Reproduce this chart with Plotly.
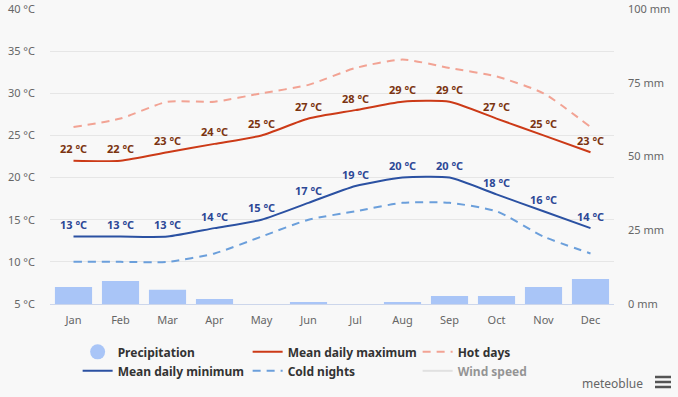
import plotly.graph_objects as go

months = ["Jan", "Feb", "Mar", "Apr", "May", "Jun", "Jul", "Aug", "Sep", "Oct", "Nov", "Dec"]
precip_mm = [5.8, 7.8, 4.8, 1.7, 0.0, 0.7, 0.0, 0.7, 2.7, 2.7, 5.8, 8.5]
mean_max = [22, 22, 23, 24, 25, 27, 28, 29, 29, 27, 25, 23]
mean_min = [13, 13, 13, 14, 15, 17, 19, 20, 20, 18, 16, 14]
hot_days = [26, 27, 29, 29, 30, 31, 33, 34, 33, 32, 30, 26]
cold_nights = [10, 10, 10, 11, 13, 15, 16, 17, 17, 16, 13, 11]

FONT = "Noto Sans"
MAX_LABEL = "#7b3410"
MIN_LABEL = "#2c4796"
fig = go.Figure()

# precipitation bars (right axis)
fig.add_trace(go.Bar(x=months, y=precip_mm, yaxis="y2", marker=dict(color="#a9c5f7", line=dict(width=0)),
                     name="Precipitation", showlegend=False, legendgroup="p"))
# legend proxy with circle symbol
fig.add_trace(go.Scatter(x=[None], y=[None], mode="markers", name="Precipitation", legendgroup="p",
                         marker=dict(color="#a9c5f7", size=15, symbol="circle")))

fig.add_trace(go.Scatter(x=months, y=mean_max, mode="lines", name="Mean daily maximum",
                         line=dict(color="#cc3a17", width=2, shape="spline", smoothing=0.6)))
fig.add_trace(go.Scatter(x=months, y=hot_days, mode="lines", name="Hot days",
                         line=dict(color="#f2a394", width=2, dash="8px,6px", shape="spline", smoothing=0.6)))
fig.add_trace(go.Scatter(x=months, y=mean_min, mode="lines", name="Mean daily minimum",
                         line=dict(color="#2b51a2", width=2, shape="spline", smoothing=0.6)))
fig.add_trace(go.Scatter(x=months, y=cold_nights, mode="lines", name="Cold nights",
                         line=dict(color="#6b9fdb", width=2, dash="8px,6px", shape="spline", smoothing=0.6)))
fig.add_trace(go.Scatter(x=[None], y=[None], mode="lines", name="Wind speed", visible="legendonly",
                         line=dict(color="#cccccc", width=2)))

# data labels placed via the axes' data coordinates
for series, col in ((mean_max, MAX_LABEL), (mean_min, MIN_LABEL)):
    for m, v in zip(months, series):
        fig.add_annotation(x=m, y=v, xref="x", yref="y", text=f"{v} °C", showarrow=False,
                           yshift=12, xanchor="center", yanchor="middle",
                           font=dict(family=FONT, size=11, color=col, weight="bold"))

fig.update_layout(
    width=678, height=397,
    margin=dict(l=50, r=64, t=9, b=93, autoexpand=False),
    paper_bgcolor="#f8f8f8", plot_bgcolor="#f8f8f8",
    font=dict(family=FONT, size=11, color="#666666"),
    bargap=0.21,
    showlegend=True,
    legend=dict(orientation="h", x=0.049, xanchor="left", y=-0.113, yanchor="top",
                entrywidth=125, entrywidthmode="pixels", itemwidth=30, tracegroupgap=0,
                font=dict(family=FONT, size=12, color="#333333", weight="bold"),
                bgcolor="rgba(0,0,0,0)"),
    xaxis=dict(type="category", categoryorder="array", categoryarray=months,
               showgrid=False, showline=True, linecolor="#ccd6eb", linewidth=1,
               ticks="", tickfont=dict(size=11, color="#666666"), ticklabelstandoff=6,
               automargin=False),
    yaxis=dict(range=[5, 40], dtick=5, tick0=5, ticksuffix=" °C", showgrid=True, gridcolor="#e6e6e6",
               zeroline=False, ticks="", tickfont=dict(size=11, color="#666666"),
               ticklabelstandoff=14, automargin=False),
    yaxis2=dict(range=[0, 100], dtick=25, overlaying="y", side="right", ticksuffix=" mm",
                showgrid=False, zeroline=False, ticks="", tickfont=dict(size=11, color="#666666"),
                ticklabelstandoff=13, automargin=False),
)

fig.add_annotation(text="meteoblue", xref="paper", yref="paper", x=(645 - 50) / 564, y=(304 - 383) / 295,
                   xanchor="right", yanchor="middle", showarrow=False,
                   font=dict(family=FONT, size=12, color="#666666"))
for dy in (-5, 0, 5):
    fig.add_shape(type="line", xref="paper", yref="paper",
                  x0=(655 - 50) / 564, x1=(671 - 50) / 564,
                  y0=(304 - (382 + dy)) / 295, y1=(304 - (382 + dy)) / 295,
                  line=dict(color="#555555", width=2.5))

fig.write_html("out.html", config={"displayModeBar": False},
               post_script="document.body.style.margin='0';document.body.style.background='#f8f8f8';")
